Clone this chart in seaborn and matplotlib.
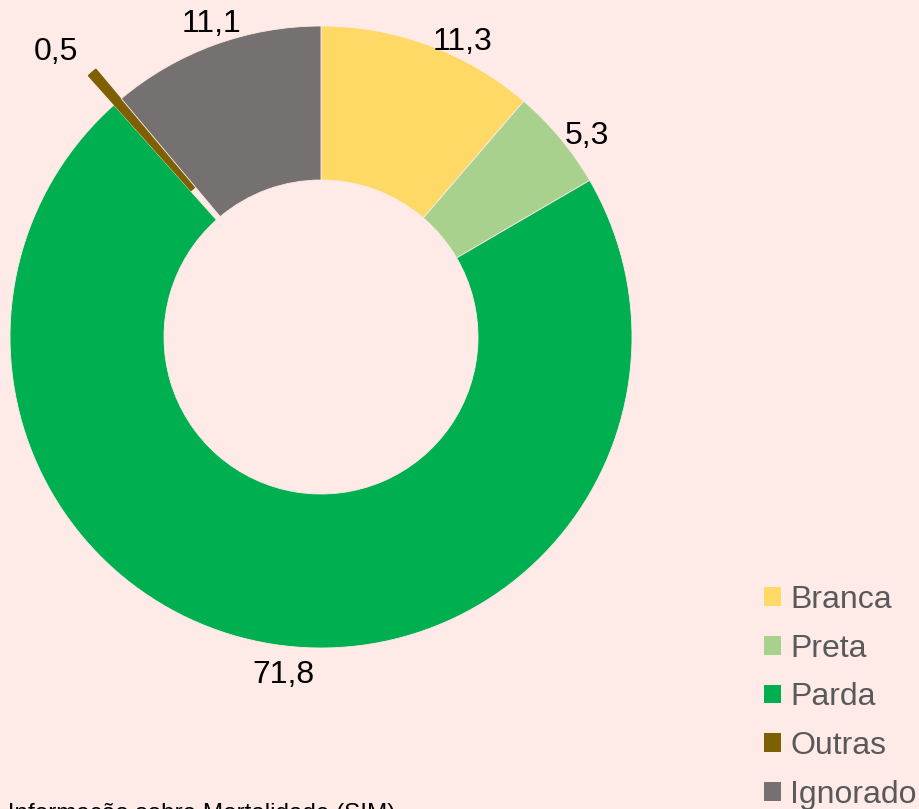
import matplotlib
matplotlib.use("Agg")
import matplotlib.pyplot as plt
import seaborn as sns
from matplotlib.patches import Patch

categories = ["Branca", "Preta", "Parda", "Outras", "Ignorado"]
values = [11.3, 5.3, 71.8, 0.5, 11.1]
value_labels = ["11,3", "5,3", "71,8", "0,5", "11,1"]
colors = ["#FFD966", "#A9D18E", "#00B050", "#7F6000", "#767171"]
explode_frac = [0, 0, 0, 0.125, 0]
source_text = "de Informação sobre Mortalidade (SIM)"

BG = "#FEEAE7"
W, H = 920, 809

sns.set_theme(style="white")
plt.rcParams["font.family"] = ["Liberation Sans", "DejaVu Sans"]

fig = plt.figure(figsize=(W / 100, H / 100), dpi=100, facecolor=BG)
ax = fig.add_axes([0, 0, 1, 1])
ax.set_facecolor(BG)

cx, cy, R = 321, H - 337, 311
wedges, _ = ax.pie(values, colors=colors, startangle=90, counterclock=False,
                   explode=[e * R for e in explode_frac], center=(cx, cy), radius=R,
                   wedgeprops=dict(width=154, edgecolor=BG, linewidth=0.6))
wedges[3].set_edgecolor(colors[3])
wedges[3].set_linewidth(1.0)
ax.set_xlim(0, W)
ax.set_ylim(0, H)
ax.set_aspect("equal")
ax.axis("off")

# label positions (pixels, image coords)
label_pos = [(463, 42), (587, 136), (283, 675), (56, 52), (212, 24)]
for (lx, ly), txt in zip(label_pos, value_labels):
    ax.text(lx, H - ly, txt, ha="center", va="center", fontsize=23, color="black")

handles = [Patch(facecolor=c, edgecolor="none") for c in colors]
leg = ax.legend(handles, categories, loc="upper left",
                bbox_to_anchor=(764 / W, 1 - 585 / H), frameon=False,
                fontsize=23, handlelength=0.52, handleheight=0.52,
                handletextpad=0.3, labelspacing=0.585, borderpad=0, borderaxespad=0)
for t in leg.get_texts():
    t.set_color("#595959")

ax.text(395, H - 820, source_text, ha="right", va="baseline", fontsize=17.5, color="black")

fig.savefig("out.png", dpi=100, facecolor=BG)
